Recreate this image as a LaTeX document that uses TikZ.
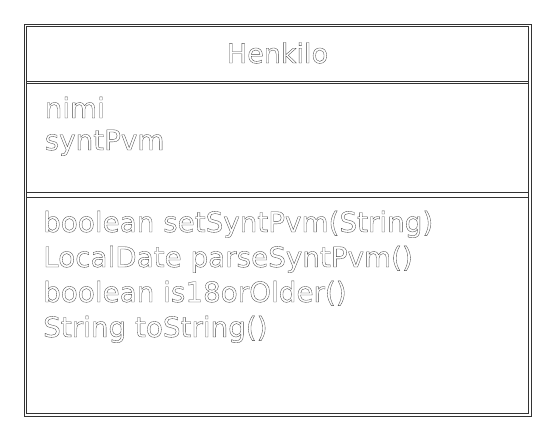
\documentclass[tikz,border=0pt]{standalone}
\usepackage{fontspec}
\setmainfont{DejaVu Sans}
\newcommand{\outl}[1]{\special{pdf:code q 1 Tr 0.35 w}#1\special{pdf:code Q}}
\begin{document}
\begin{tikzpicture}[x=1pt,y=1pt,
  edge/.style={draw=black!80,line width=0.7pt},
  label/.style={inner sep=0pt,anchor=base west,font=\fontsize{27.8}{32}\selectfont,text=black!70},
  title/.style={inner sep=0pt,anchor=center,font=\fontsize{27}{32}\selectfont,text=black!70}]
\useasboundingbox (0,0) rectangle (549,-430);
\draw[edge] (24,-24) rectangle (531,-416);
\draw[edge] (26.5,-26.5) rectangle (528.5,-413.5);
\coordinate (d1al) at (26.5,-81);
\coordinate (d1ar) at (528.5,-81);
\coordinate (d1bl) at (26.5,-83.5);
\coordinate (d1br) at (528.5,-83.5);
\coordinate (d2al) at (26.5,-192.5);
\coordinate (d2ar) at (528.5,-192.5);
\coordinate (d2bl) at (26.5,-197);
\coordinate (d2br) at (528.5,-197);
\draw[edge] (d1al) -- (d1ar);
\draw[edge] (d1bl) -- (d1br);
\draw[edge] (d2al) -- (d2ar);
\draw[edge] (d2bl) -- (d2br);
\node[title] (name) at (277.5,-53) {\outl{Henkilo}};
\node[label] (a1) at (44.5,-118) {\outl{nimi}};
\node[label] (a2) at (44.5,-150) {\outl{syntPvm}};
\node[label] (m1) at (43,-232) {\outl{boolean setSyntPvm(String)}};
\node[label] (m2) at (43,-267) {\outl{LocalDate parseSyntPvm()}};
\node[label] (m3) at (43,-302) {\outl{boolean is18orOlder()}};
\node[label] (m4) at (43,-337) {\outl{String toString()}};
\end{tikzpicture}
\end{document}
